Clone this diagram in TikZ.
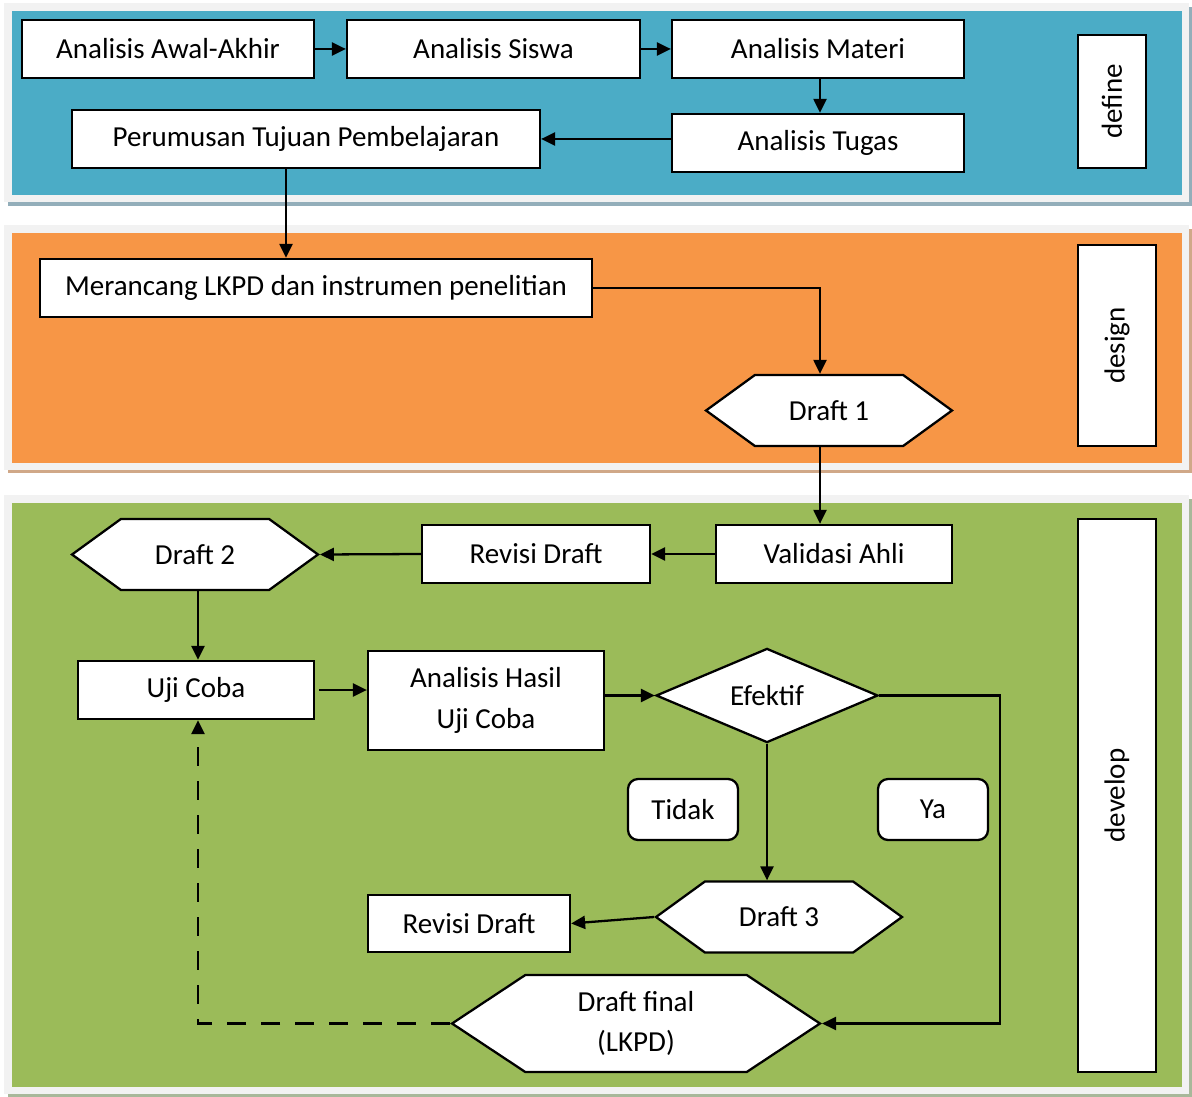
\documentclass[tikz,border=0pt]{standalone}
\usepackage{fontspec}
\setmainfont{Carlito}
\usepackage{xcolor}
\usepackage{tikz}
\usetikzlibrary{arrows.meta,shapes.geometric,shapes.symbols}

\definecolor{defineblue}{HTML}{4BACC6}
\definecolor{designorange}{HTML}{F79646}
\definecolor{developgreen}{HTML}{9BBB59}
\definecolor{panelgray}{HTML}{F2F2F2}
\definecolor{defineshadow}{HTML}{93AEBA}
\definecolor{designshadow}{HTML}{D0A888}
\definecolor{developshadow}{HTML}{A8B89A}

\begin{document}
\begin{tikzpicture}[
    x=0.02cm, y=-0.02cm,
    process/.style={
        rectangle,
        draw=black,
        fill=white,
        line width=1.3pt,
        minimum height=1.16cm,
        inner sep=2pt,
        font=\fontsize{16.5}{23.2}\selectfont,
        align=center
    },
    draftbox/.style={
        signal,
        signal to=east and west,
        signal pointer angle=72,
        draw=black,
        fill=white,
        line width=1.3pt,
        minimum width=4.92cm,
        minimum height=1.42cm,
        inner sep=0pt,
        font=\fontsize{16.5}{23.2}\selectfont,
        align=center
    },
    answer/.style={
        rectangle,
        rounded corners=0.2cm,
        draw=black,
        fill=white,
        line width=1.3pt,
        minimum width=2.2cm,
        minimum height=1.22cm,
        font=\fontsize{16.5}{23.2}\selectfont
    },
    phase/.style={
        rectangle,
        draw=black,
        fill=white,
        line width=1.6pt,
        rotate=90,
        font=\fontsize{16.5}{20}\selectfont
    },
    arrow/.style={
        -{Triangle[length=0.28cm,width=0.26cm]},
        line width=1.3pt
    }
]
\useasboundingbox (0,0) rectangle (1192,1097);

% Panels
\fill[defineshadow] (8,7) rectangle (1192,206);
\fill[panelgray] (4,3) rectangle (1189,202);
\fill[defineblue] (12,11) rectangle (1182,195);

\fill[designshadow] (8,229) rectangle (1192,473);
\fill[panelgray] (4,225) rectangle (1189,470);
\fill[designorange] (12,233) rectangle (1182,463);

\fill[developshadow] (8,499) rectangle (1192,1097);
\fill[panelgray] (4,495) rectangle (1189,1094);
\fill[developgreen] (12,503) rectangle (1182,1087);

% Define
\node[process, minimum width=5.84cm] (awalakhir) at (168,49) {Analisis Awal-Akhir};
\node[process, minimum width=5.86cm] (siswa) at (493.5,49) {Analisis Siswa};
\node[process, minimum width=5.84cm] (materi) at (818,49) {Analisis Materi};
\node[process, minimum width=5.84cm] (tugas) at (818,143) {Analisis Tugas};
\node[process, minimum width=9.36cm] (tujuan) at (306,139) {Perumusan Tujuan Pembelajaran};
\node[phase, minimum width=2.66cm, minimum height=1.36cm] (definelbl) at (1112,101.5) {define};

% Design
\node[process, minimum width=11.04cm] (merancang) at (316,288) {Merancang LKPD dan instrumen penelitian};
\node[draftbox] (draft1) at (829,410.5) {Draft 1};
\node[phase, minimum width=4.02cm, minimum height=1.56cm] (designlbl) at (1117,345.5) {design};

% Develop
\node[process, minimum width=4.72cm] (validasi) at (834,554) {Validasi Ahli};
\node[process, minimum width=4.56cm] (revisi1) at (536,554) {Revisi Draft};
\node[draftbox] (draft2) at (195,554.5) {Draft 2};
\node[process, minimum width=4.72cm] (ujicoba) at (196,690) {Uji Coba};
\node[process, minimum width=4.72cm, minimum height=1.98cm] (hasil) at (486,700.5) {Analisis Hasil\\Uji Coba};
\node[diamond, draw=black, fill=white, line width=1.3pt, minimum width=4.44cm, minimum height=1.78cm,
      inner sep=0pt, font=\fontsize{16.5}{23.2}\selectfont] (efektif) at (767,695.5) {Efektif};
\node[answer] (tidak) at (683,809.5) {Tidak};
\node[answer] (ya) at (933,809.5) {Ya};
\node[draftbox] (draft3) at (779,917) {Draft 3};
\node[process, minimum width=4.04cm, minimum height=1.14cm] (revisi2) at (469,923.5) {Revisi Draft};
\node[draftbox, signal pointer angle=67, minimum width=7.36cm, minimum height=1.94cm] (final) at (636,1023.5) {Draft final\\(LKPD)};
\node[phase, minimum width=11.06cm, minimum height=1.56cm] (developlbl) at (1117,795.5) {develop};

\coordinate (yabend) at (1000,695.5);

% Arrows
\draw[arrow] (awalakhir.east) -- (siswa.west);
\draw[arrow] (siswa.east) -- (materi.west);
\draw[arrow] ([xshift=0.04cm]materi.south) -- ([xshift=0.04cm]tugas.north);
\draw[arrow] (tugas.west |- tujuan.east) -- (tujuan.east);
\draw[arrow] ([xshift=-0.4cm]tujuan.south) -- ([xshift=-0.4cm]tujuan.south |- merancang.north);
\draw[arrow] (merancang.east) -- ([xshift=-0.18cm]draft1.north |- merancang.east) -- ([xshift=-0.18cm]draft1.north);
\draw[arrow] ([xshift=-0.18cm]draft1.south) -- ([xshift=-0.18cm]draft1.south |- validasi.north);
\draw[arrow] (validasi.west) -- (revisi1.east);
\draw[arrow] (revisi1.west) -- (draft2.east);
\draw[arrow] ([xshift=0.06cm]draft2.south) -- ([xshift=0.06cm]draft2.south |- ujicoba.north);
\draw[arrow] ([xshift=0.08cm]ujicoba.east) -- (ujicoba.east -| hasil.west);
\draw[arrow] (hasil.east |- efektif.west) -- (efektif.west);
\draw[arrow] (efektif.south) -- (efektif.south |- draft3.north);
\draw[arrow] (efektif.east) -- (yabend) -- (yabend |- final.east) -- (final.east);
\draw[arrow] (draft3.west) -- (revisi2.east);
\draw[arrow, dash pattern=on 0.38cm off 0.3cm] (final.west) -- ([xshift=0.04cm]ujicoba.south |- final.west) -- ([xshift=0.04cm]ujicoba.south);

\end{tikzpicture}
\end{document}
